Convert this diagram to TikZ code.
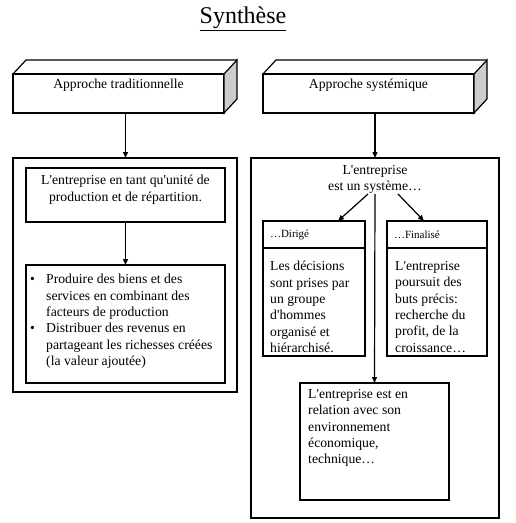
\documentclass[tikz,border=0pt]{standalone}
\usepackage{fontspec}
\setmainfont{Liberation Serif}[Ligatures=TeXOff]
\usetikzlibrary{arrows.meta, positioning}
\newcommand{\bodyfont}{\fontsize{13.7}{16.4}\selectfont}
\newcommand{\tagfont}{\fontsize{11}{13}\selectfont}

\begin{document}
\begin{tikzpicture}[x=1pt, y=-1pt,
    box/.style={draw, line width=1.2pt, inner sep=0pt, outer sep=0pt},
    txt/.style={font=\bodyfont, inner sep=0pt},
    arr/.style={-{Triangle[length=6pt, width=5pt]}, line width=1.2pt}
  ]
  \useasboundingbox (0,0) rectangle (515,523);

  % Title
  \node[font=\fontsize{24}{28}\selectfont] (title) at (243,19) {\underline{Synthèse}};

  % Cubes
  \foreach \n/\x/\t in {trad/118.5/Approche traditionnelle, syst/368.5/Approche systémique}{
    \node[box, minimum width=211pt, minimum height=39pt] (\n) at (\x,93.5) {};
    \filldraw[fill=gray!40, line width=1.2pt] (\n.north east) -- ++(13,-14)
      -- ++(0,39) -- (\n.south east) -- cycle;
    \draw[line width=1.2pt] (\n.north west) -- ++(13,-14) -- ++(211,0);
    \node[txt, anchor=base] (\n-lbl) at (\x,88) {\t};
  }

  % Left side
  \node[box, minimum width=224pt, minimum height=234pt] (left) at (125,275) {};
  \node[box, minimum width=199pt, minimum height=54pt] (unite) at (125.5,195) {};
  \node[txt, align=center, anchor=north] (unite-txt) at (125.5,175)
    {L'entreprise en tant qu'unité de\\production et de répartition.};
  \node[box, minimum width=199pt, minimum height=118pt] (prod) at (125.5,324) {};
  \node[txt, anchor=north west] (prod-txt) at (30,272) {%
    \begin{tabular}{@{}p{16pt}@{}l@{}}
      \textbullet & Produire des biens et des\\
                  & services en combinant des\\
                  & facteurs de production\\
      \textbullet & Distribuer des revenus en\\
                  & partageant les richesses créées\\
                  & (la valeur ajoutée)
    \end{tabular}};

  % Right side
  \node[box, minimum width=248pt, minimum height=360pt] (right) at (375,338) {};
  \node[txt, align=center, anchor=north] (sys) at (375,165)
    {L'entreprise\\est un système…};
  \coordinate (sysL) at (368,194);
  \coordinate (sysR) at (398,194);

  \node[box, minimum width=102pt, minimum height=27pt, font=\tagfont,
        text width=88pt, align=left] (dir-head) at (314,234.5) {…Dirigé};
  \node[box, minimum width=102pt, minimum height=108pt, below=0pt of dir-head] (dir) {};
  \node[txt, align=left, anchor=north west] (dir-txt) at (270,261)
    {Les décisions\\sont prises par\\un groupe\\d'hommes\\organisé et\\hiérarchisé.};

  \node[box, minimum width=100pt, minimum height=27pt, font=\tagfont,
        text width=86pt, align=left] (fin-head) at (437,234.5) {…Finalisé};
  \node[box, minimum width=100pt, minimum height=108pt, below=0pt of fin-head] (fin) {};
  \node[txt, align=left, anchor=north west] (fin-txt) at (395,261)
    {L'entreprise\\poursuit des\\buts précis:\\recherche du\\profit, de la\\croissance…};

  \node[box, minimum width=149pt, minimum height=117pt] (env) at (374.5,441.5) {};
  \node[txt, align=left, anchor=north west] (env-txt) at (308,389)
    {L'entreprise est en\\relation avec son\\environnement\\économique,\\technique…};

  % Connections
  \draw[arr] (trad.south -| unite.north) -- (unite.north |- left.north);
  \draw[arr] (syst.south -| right.north) -- (right.north);
  \draw[arr] (unite) -- (prod);
  \draw[arr] (sysL) -- (dir-head.north -| 338,0);
  \draw[arr] (sysR) -- (fin-head.north -| 424,0);
  \draw[arr] (sys.south) -- (env.north);
\end{tikzpicture}
\end{document}
